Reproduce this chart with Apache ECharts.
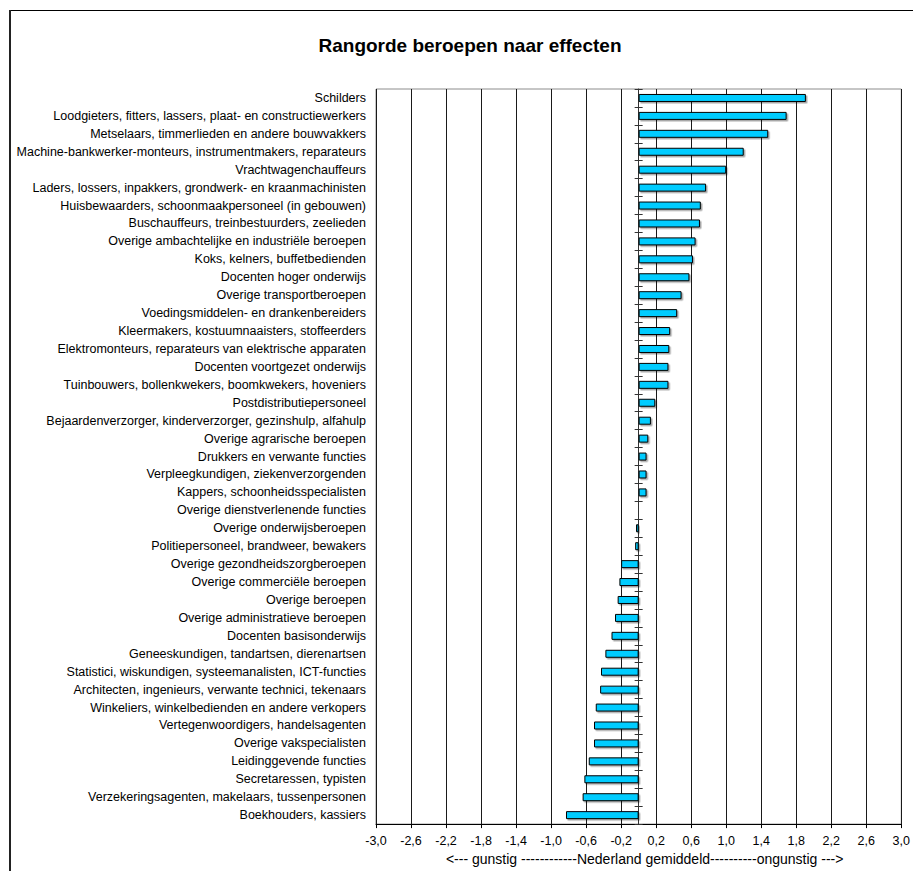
<!DOCTYPE html>
<html>
<head>
<meta charset="utf-8">
<script src="https://cdn.jsdelivr.net/npm/echarts@6/dist/echarts.min.js"></script>
<style>
html,body{margin:0;padding:0;background:#fff;}
#chart{width:913px;height:871px;}
</style>
</head>
<body>
<div id="chart"></div>
<script>
const chartTitle = 'Rangorde beroepen naar effecten';
const axisTitle = '<--- gunstig ------------Nederland gemiddeld----------ongunstig --->';
const categories = [
  'Schilders',
  'Loodgieters, fitters, lassers, plaat- en constructiewerkers',
  'Metselaars, timmerlieden en andere bouwvakkers',
  'Machine-bankwerker-monteurs, instrumentmakers, reparateurs',
  'Vrachtwagenchauffeurs',
  'Laders, lossers, inpakkers, grondwerk- en kraanmachinisten',
  'Huisbewaarders, schoonmaakpersoneel (in gebouwen)',
  'Buschauffeurs, treinbestuurders, zeelieden',
  'Overige ambachtelijke en industriële beroepen',
  'Koks, kelners, buffetbedienden',
  'Docenten hoger onderwijs',
  'Overige transportberoepen',
  'Voedingsmiddelen- en drankenbereiders',
  'Kleermakers, kostuumnaaisters, stoffeerders',
  'Elektromonteurs, reparateurs van elektrische apparaten',
  'Docenten voortgezet onderwijs',
  'Tuinbouwers, bollenkwekers, boomkwekers, hoveniers',
  'Postdistributiepersoneel',
  'Bejaardenverzorger, kinderverzorger, gezinshulp, alfahulp',
  'Overige agrarische beroepen',
  'Drukkers en verwante functies',
  'Verpleegkundigen, ziekenverzorgenden',
  'Kappers, schoonheidsspecialisten',
  'Overige dienstverlenende functies',
  'Overige onderwijsberoepen',
  'Politiepersoneel, brandweer, bewakers',
  'Overige gezondheidszorgberoepen',
  'Overige commerciële beroepen',
  'Overige beroepen',
  'Overige administratieve beroepen',
  'Docenten basisonderwijs',
  'Geneeskundigen, tandartsen, dierenartsen',
  'Statistici, wiskundigen, systeemanalisten, ICT-functies',
  'Architecten, ingenieurs, verwante technici, tekenaars',
  'Winkeliers, winkelbedienden en andere verkopers',
  'Vertegenwoordigers, handelsagenten',
  'Overige vakspecialisten',
  'Leidinggevende functies',
  'Secretaressen, typisten',
  'Verzekeringsagenten, makelaars, tussenpersonen',
  'Boekhouders, kassiers'
];
const values = [
  1.91, 1.69, 1.48, 1.20, 1.00, 0.77, 0.71, 0.70, 0.65, 0.62,
  0.58, 0.49, 0.44, 0.36, 0.35, 0.34, 0.34, 0.19, 0.14, 0.11,
  0.09, 0.09, 0.09, 0.00, -0.03, -0.04, -0.20, -0.22, -0.24, -0.27,
  -0.31, -0.38, -0.43, -0.44, -0.49, -0.51, -0.51, -0.57, -0.62, -0.64,
  -0.83
];
const xTicks = [-3.0, -2.6, -2.2, -1.8, -1.4, -1.0, -0.6, -0.2, 0.2, 0.6, 1.0, 1.4, 1.8, 2.2, 2.6, 3.0];
const xMin = -3.0, xMax = 3.0;

const FONT = '"Liberation Sans", Arial, sans-serif';
const chart = echarts.init(document.getElementById('chart'), null, {renderer: 'svg'});

function fmt(v) {
  return (Math.round(v * 10) / 10).toFixed(1).replace('.', ',');
}

const baseCat = {
  type: 'category',
  data: categories,
  inverse: true,
  gridIndex: 0
};

chart.setOption({
  animation: false,
  backgroundColor: '#ffffff',
  graphic: [
    {type: 'line', shape: {x1: 10, y1: 10.5, x2: 913, y2: 10.5}, style: {stroke: '#000', lineWidth: 1}, z: 100},
    {type: 'line', shape: {x1: 10, y1: 10, x2: 10, y2: 871}, style: {stroke: '#222', lineWidth: 2}, z: 100},
    {type: 'text', x: 470, y: 45, z: 100,
     style: {text: chartTitle, fontSize: 19, fontWeight: 'bold', fontFamily: FONT, fill: '#000', align: 'center', verticalAlign: 'middle'}}
  ],
  grid: {
    left: 376, top: 89, width: 530, height: 736,
    show: true, borderColor: '#8c8c8c', borderWidth: 1, backgroundColor: '#fff',
    containLabel: false
  },
  xAxis: [{
    type: 'value',
    min: xMin, max: xMax,
    gridIndex: 0,
    axisLine: {show: true, onZero: false, lineStyle: {color: '#000', width: 1}},
    axisTick: {show: true, length: 4, lineStyle: {color: '#000'}, customValues: xTicks},
    axisLabel: {show: true, customValues: xTicks, formatter: fmt, fontSize: 12.5, fontFamily: FONT, color: '#000', margin: 10},
    splitLine: {show: true, lineStyle: {color: '#1a1a1a', width: 1}},
    name: axisTitle,
    nameLocation: 'middle',
    nameGap: 27,
    nameTextStyle: {fontSize: 14, fontFamily: FONT, color: '#000', padding: [0, 0, 0, 12]}
  }],
  yAxis: [
    Object.assign({}, baseCat, {
      axisLine: {show: false, onZero: false},
      axisTick: {show: false},
      axisLabel: {show: true, fontSize: 12.5, fontFamily: FONT, color: '#000', margin: 10},
      splitLine: {show: false}
    }),
    Object.assign({}, baseCat, {
      axisLine: {show: true, onZero: true, onZeroAxisIndex: 0, lineStyle: {color: '#333', width: 1}},
      axisTick: {show: true, inside: false, length: 4, lineStyle: {color: '#333'}},
      axisLabel: {show: false},
      splitLine: {show: false}
    }),
    Object.assign({}, baseCat, {
      axisLine: {show: false, onZero: true, onZeroAxisIndex: 0},
      axisTick: {show: true, inside: true, length: 4, lineStyle: {color: '#333'}},
      axisLabel: {show: false},
      splitLine: {show: false}
    })
  ],
  series: [{
    type: 'bar',
    xAxisIndex: 0,
    yAxisIndex: 0,
    data: values,
    barWidth: 8,
    itemStyle: {
      color: '#00ccff',
      borderColor: '#000',
      borderWidth: 1,
      shadowColor: 'rgba(0,0,0,0.35)',
      shadowOffsetX: 1.5,
      shadowOffsetY: 1.5,
      shadowBlur: 0
    },
    z: 3
  }]
});
</script>
</body>
</html>
